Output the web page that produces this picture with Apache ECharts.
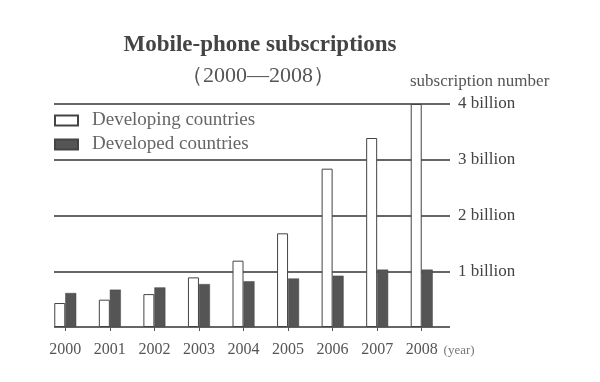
<!DOCTYPE html>
<html><head><meta charset="utf-8">
<script src="https://cdn.jsdelivr.net/npm/echarts@6/dist/echarts.min.js"></script>
<style>html,body{margin:0;padding:0;background:#fff}#c{width:600px;height:382px}</style>
</head><body><div id="c"></div>
<script>
const years = ['2000','2001','2002','2003','2004','2005','2006','2007','2008'];
const developing = [0.43, 0.49, 0.59, 0.89, 1.19, 1.68, 2.84, 3.39, 4.0];
const developed = [0.61, 0.67, 0.71, 0.77, 0.82, 0.87, 0.92, 1.03, 1.03];
const yTicks = ['0', '1 billion', '2 billion', '3 billion', '4 billion'];

const serif = '"Liberation Serif", "DejaVu Serif", serif';
const chart = echarts.init(document.getElementById('c'));
chart.setOption({
  backgroundColor: '#fff',
  animation: false,
  title: [
    {text: 'Mobile-phone subscriptions', left: 260, top: 34, textAlign: 'center', padding: 0,
     textStyle: {fontFamily: serif, fontWeight: 'bold', fontSize: 23, color: '#444'}},
    {text: '（2000—2008）', left: 258, top: 65, textAlign: 'center', padding: 0,
     textStyle: {fontFamily: serif, fontWeight: 'normal', fontSize: 22, color: '#555'}},
    {text: 'subscription number', left: 410, top: 73, padding: 0,
     textStyle: {fontFamily: serif, fontWeight: 'normal', fontSize: 17, color: '#555'}}
  ],
  legend: {
    orient: 'vertical', left: 54, top: 111, padding: 0, itemWidth: 23, itemHeight: 10, itemGap: 5,
    icon: 'rect',
    textStyle: {fontFamily: serif, fontSize: 19, color: '#666', padding: [0,0,0,9]},
    data: ['Developing countries', 'Developed countries']
  },
  grid: [
    {left: 43, width: 401, top: 104, bottom: 55},
    {left: 54, right: 150, top: 104, bottom: 55}
  ],
  xAxis: [
    {type: 'category', gridIndex: 0, data: years,
     axisLine: {show: false},
     axisTick: {show: true, alignWithLabel: true, length: 4, lineStyle: {color: '#555'}},
     axisLabel: {fontFamily: serif, fontSize: 16, color: '#555', margin: 15},
     name: '(year)', nameLocation: 'end', nameGap: -8,
     nameTextStyle: {fontFamily: serif, fontSize: 13, color: '#777', verticalAlign: 'top', padding: [17,0,0,0]}},
    {type: 'category', gridIndex: 1, show: false, data: years}
  ],
  yAxis: [
    {type: 'value', gridIndex: 0, min: 0, max: 4, interval: 1, show: false, splitLine: {show: false}},
    {type: 'value', gridIndex: 1, min: 0, max: 4, interval: 1, position: 'right',
     axisLine: {show: false}, axisTick: {show: false},
     splitLine: {show: true, lineStyle: {color: '#333', width: 1.5}},
     axisLabel: {fontFamily: serif, fontSize: 17, color: '#444', margin: 8,
       formatter: (v) => v === 0 ? '' : yTicks[v]}}
  ],
  series: [
    {name: 'Developing countries', type: 'bar', xAxisIndex: 0, yAxisIndex: 0,
     data: developing, barWidth: 11, barGap: '0%',
     itemStyle: {color: '#fff', borderColor: '#444', borderWidth: 1}},
    {name: 'Developed countries', type: 'bar', xAxisIndex: 0, yAxisIndex: 0,
     data: developed, barWidth: 11, barGap: '0%',
     itemStyle: {color: '#555', borderColor: '#444', borderWidth: 0.5}}
  ]
});
</script></body></html>
